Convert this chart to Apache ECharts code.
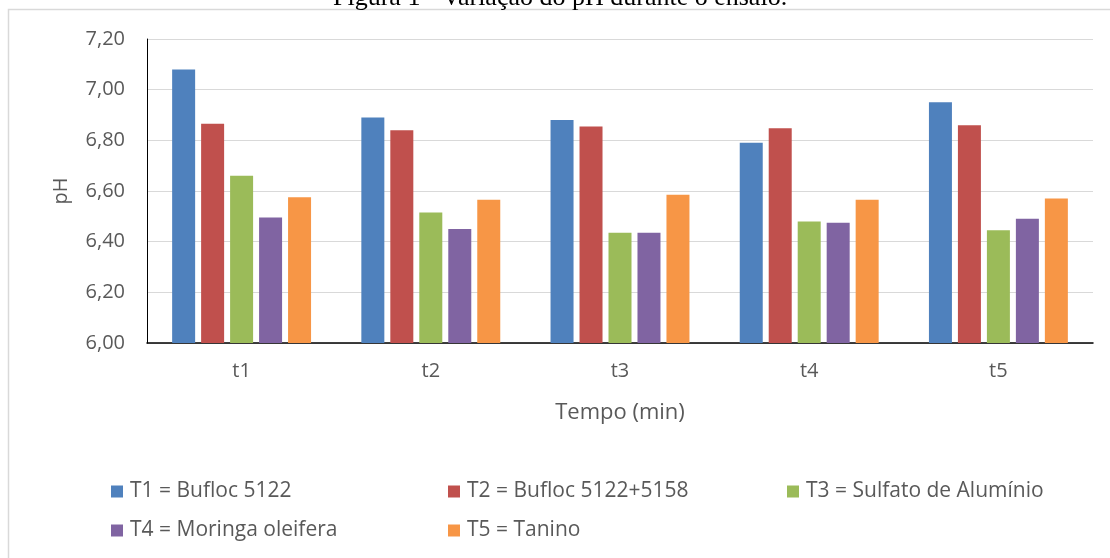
<!DOCTYPE html>
<html>
<head>
<meta charset="utf-8">
<script src="https://cdn.jsdelivr.net/npm/echarts@6/dist/echarts.min.js"></script>
<style>html,body{margin:0;padding:0;background:#fff;}#c{width:1110px;height:558px;}</style>
</head>
<body>
<div id="c"></div>
<script>
var categories = ['t1', 't2', 't3', 't4', 't5'];
var seriesNames = ['T1 = Bufloc 5122', 'T2 = Bufloc 5122+5158', 'T3 = Sulfato de Alumínio', 'T4 = Moringa oleifera', 'T5 = Tanino'];
var T1 = [7.08, 6.89, 6.88, 6.79, 6.95];
var T2 = [6.865, 6.84, 6.855, 6.848, 6.86];
var T3 = [6.66, 6.515, 6.435, 6.48, 6.445];
var T4 = [6.495, 6.45, 6.435, 6.475, 6.49];
var T5 = [6.575, 6.565, 6.585, 6.565, 6.57];
var colors = ['#4F81BD', '#C0504D', '#9BBB59', '#8064A2', '#F79646'];
var yMin = 6, yMax = 7.2, yStep = 0.2;
var titleText = 'Figura 1 - Variação do pH durante o ensaio.';

var values = [T1, T2, T3, T4, T5];
var font = '"Open Sans", sans-serif';
var txt = '#595959';
var legendPos = [[111, 481], [448, 481], [787, 481], [111, 520], [448, 520]];

var chart = echarts.init(document.getElementById('c'), null, {renderer: 'canvas'});
chart.setOption({
  animation: false,
  color: colors,
  graphic: [
    {type: 'rect', z: 0, shape: {x: 8.5, y: 9.5, width: 1300, height: 800}, style: {fill: 'none', stroke: '#d9d9d9', lineWidth: 1.5}},
    {type: 'text', z: 1, style: {text: titleText, x: 333, y: 11, font: '26px "Liberation Serif", serif', fill: '#000', verticalAlign: 'bottom', align: 'left'}}
  ],
  legend: legendPos.map(function (p, i) {
    return {
      data: [seriesNames[i]], left: p[0], top: p[1], padding: 0, itemGap: 0,
      itemWidth: 12, itemHeight: 12, icon: 'rect',
      textStyle: {fontSize: 21, color: txt, fontFamily: font, padding: [0, 0, 0, 2]}
    };
  }),
  grid: {left: 147, right: 17, top: 39, bottom: 215, containLabel: false},
  xAxis: {
    type: 'category', data: categories,
    axisLine: {lineStyle: {color: '#000', width: 1.5}},
    axisTick: {show: false},
    axisLabel: {fontSize: 20, color: txt, fontFamily: font, margin: 18},
    name: 'Tempo (min)', nameLocation: 'middle', nameGap: 59,
    nameTextStyle: {fontSize: 22, color: txt, fontFamily: font}
  },
  yAxis: {
    type: 'value', min: yMin, max: yMax, interval: yStep,
    axisLine: {show: true, lineStyle: {color: '#000', width: 1}},
    axisTick: {show: false},
    splitLine: {lineStyle: {color: '#d9d9d9', width: 1}},
    axisLabel: {fontSize: 20, color: txt, fontFamily: font, margin: 22,
      formatter: function (v) { return v.toFixed(2).replace('.', ','); }},
    name: 'pH', nameLocation: 'middle', nameGap: 76, nameRotate: 90,
    nameTextStyle: {fontSize: 20, color: txt, fontFamily: font}
  },
  series: values.map(function (arr, i) {
    return {
      name: seriesNames[i], type: 'bar', data: arr,
      barWidth: 23, barGap: '26%',
      itemStyle: {color: colors[i]}
    };
  })
});
</script>
</body>
</html>
